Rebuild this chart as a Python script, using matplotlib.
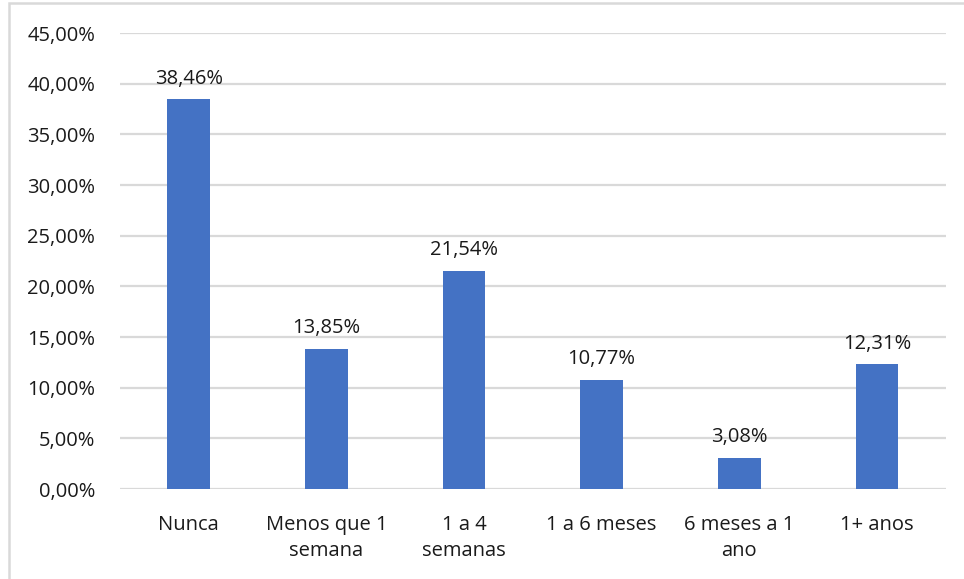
import matplotlib.pyplot as plt
from matplotlib.patches import Rectangle

# Frequência - percentual de respostas por categoria
categorias = ["Nunca", "Menos que 1\nsemana", "1 a 4\nsemanas",
              "1 a 6 meses", "6 meses a 1\nano", "1+ anos"]
percentuais = [38.46, 13.85, 21.54, 10.77, 3.08, 12.31]
yticks = [0, 5, 10, 15, 20, 25, 30, 35, 40, 45]

plt.rcParams['font.family'] = ['Open Sans', 'DejaVu Sans']
cor_texto = "#1a1a1a"

fig = plt.figure(figsize=(9.64, 5.79), dpi=100)
ax = fig.add_axes([0.1245, 0.1554, 0.8565, 0.7876])

x = range(len(categorias))
ax.bar(x, percentuais, width=0.31, color="#4472C4", zorder=3)

for xi, v in zip(x, percentuais):
    ax.annotate(f"{v:.2f}%".replace(".", ","), (xi, v), xytext=(0, 7.5),
                textcoords="offset points", ha="center", va="bottom",
                fontsize=14.5, color=cor_texto)

ax.set_ylim(0, 45)
ax.set_xlim(-0.5, len(categorias) - 0.5)
ax.set_yticks(yticks)
ax.set_yticklabels([f"{t:.2f}%".replace(".", ",") for t in yticks])
ax.set_xticks(list(x))
ax.set_xticklabels(categorias, linespacing=1.35)
ax.tick_params(axis="y", length=0, pad=18, labelsize=14.5, labelcolor=cor_texto)
ax.tick_params(axis="x", length=0, pad=19, labelsize=14.5, labelcolor=cor_texto)
ax.grid(axis="y", color="#D9D9D9", linewidth=1.6, zorder=0)
for s in ax.spines.values():
    s.set_visible(False)

# moldura do gráfico (só as bordas esquerda e superior ficam visíveis)
fig.patches.append(Rectangle((0.009, -0.05), 1.05, 1.044, transform=fig.transFigure,
                             fill=False, edgecolor="#D9D9D9", linewidth=1.8))

fig.savefig("out.png", dpi=100)
